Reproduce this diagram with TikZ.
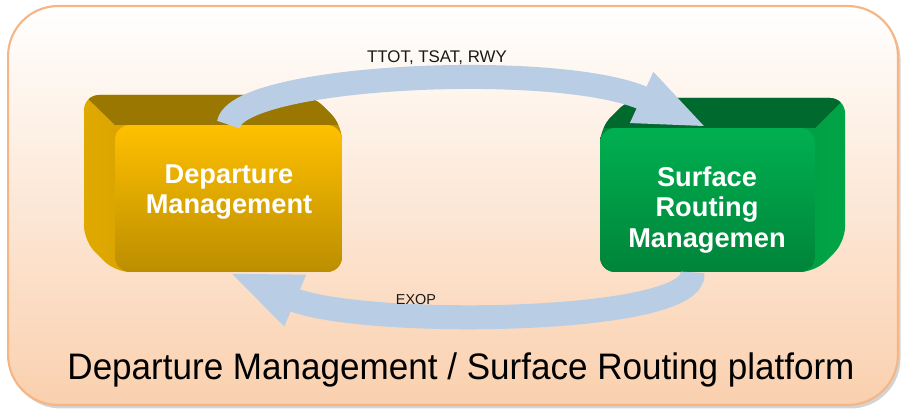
\documentclass[tikz,border=0pt]{standalone}
\usepackage{fontspec}
\setmainfont{Liberation Sans}
\usetikzlibrary{arrows.meta,shadows}

\definecolor{frameedge}{HTML}{F6B585}
\definecolor{framefill}{HTML}{FAD0AE}
\definecolor{flowblue}{HTML}{B9CDE5}
\definecolor{goldfront}{HTML}{FFC000}
\definecolor{golddark}{HTML}{BC8E00}
\definecolor{goldtop}{HTML}{9A7700}
\definecolor{goldside}{HTML}{E0A900}
\definecolor{greenfront}{HTML}{00B050}
\definecolor{greendark}{HTML}{00843A}
\definecolor{greentop}{HTML}{006A2E}
\definecolor{greenside}{HTML}{00A546}

\begin{document}
\begin{tikzpicture}[x=0.02cm, y=-0.02cm,
  front/.style={rounded corners=0.3cm, inner sep=0pt},
  boxtext/.style={text=white, font=\bfseries\fontsize{15.5}{17.6}\selectfont, align=center},
  flow/.style={draw=flowblue, line width=0.48cm, -{Triangle[width=1cm,length=1.45cm]}},
  flowlabel/.style={text=black!90, font=\fontsize{9.6}{11}\selectfont}]
\useasboundingbox (0,0) rectangle (903,411);

% platform frame
\node (platform) [draw=frameedge, line width=1.2pt, rounded corners=1cm, top color=white, bottom color=framefill,
  drop shadow={shadow xshift=1.5pt, shadow yshift=-2pt, opacity=0.35},
  minimum width=17.8cm, minimum height=7.98cm] at (453,205.5) {};

% left block: sides and top
\path[rounded corners=0.3cm, left color=goldside, right color=golddark]
  (84,95) -- (312,95) -- (342,125) -- (342,272) -- (115,272) -- (84,241) -- cycle;
\begin{scope}
  \clip[rounded corners=0.3cm] (84,95) -- (312,95) -- (342,125) -- (342,272) -- (115,272) -- (84,241) -- cycle;
  \fill[goldtop] (74,85) -- (302,85) -- (342,125) -- (115,125) -- cycle;
\end{scope}

% right block: sides and top
\path[rounded corners=0.3cm, left color=greendark, right color=greenside]
  (630,98) -- (845,98) -- (845,242) -- (815,272) -- (600,272) -- (600,128) -- cycle;
\begin{scope}
  \clip[rounded corners=0.3cm] (630,98) -- (845,98) -- (845,242) -- (815,272) -- (600,272) -- (600,128) -- cycle;
  \fill[greentop] (600,128) -- (640,88) -- (855,88) -- (815,128) -- cycle;
\end{scope}

% front faces
\node (dep) [front, top color=goldfront, bottom color=golddark, minimum width=4.54cm, minimum height=2.94cm] at (228.5,198.5) {};
\node (srm) [front, top color=greenfront, bottom color=greendark, minimum width=4.3cm, minimum height=2.88cm] at (707.5,200) {};

% data flows
\draw[flow] (dep.north) .. controls (235,75) and (560,60) .. (srm.north);
\draw[flow] ([xshift=-0.3cm]srm.south) .. controls (700,325) and (360,328) .. (dep.south);

\node (deptext) [boxtext] at (229,192) {Departure\\Management};
\node (srmtext) [boxtext] at (707,210) {Surface\\Routing\\Managemen};

\node (uplink) [flowlabel] at (437,58) {TTOT, TSAT, RWY};
\node (downlink) [flowlabel, font=\fontsize{8.2}{10}\selectfont] at (416,300) {EXOP};

\node (title) [xscale=0.95, font=\fontsize{21}{24}\selectfont] at (461,370) {Departure Management / Surface Routing platform};
\end{tikzpicture}
\end{document}
